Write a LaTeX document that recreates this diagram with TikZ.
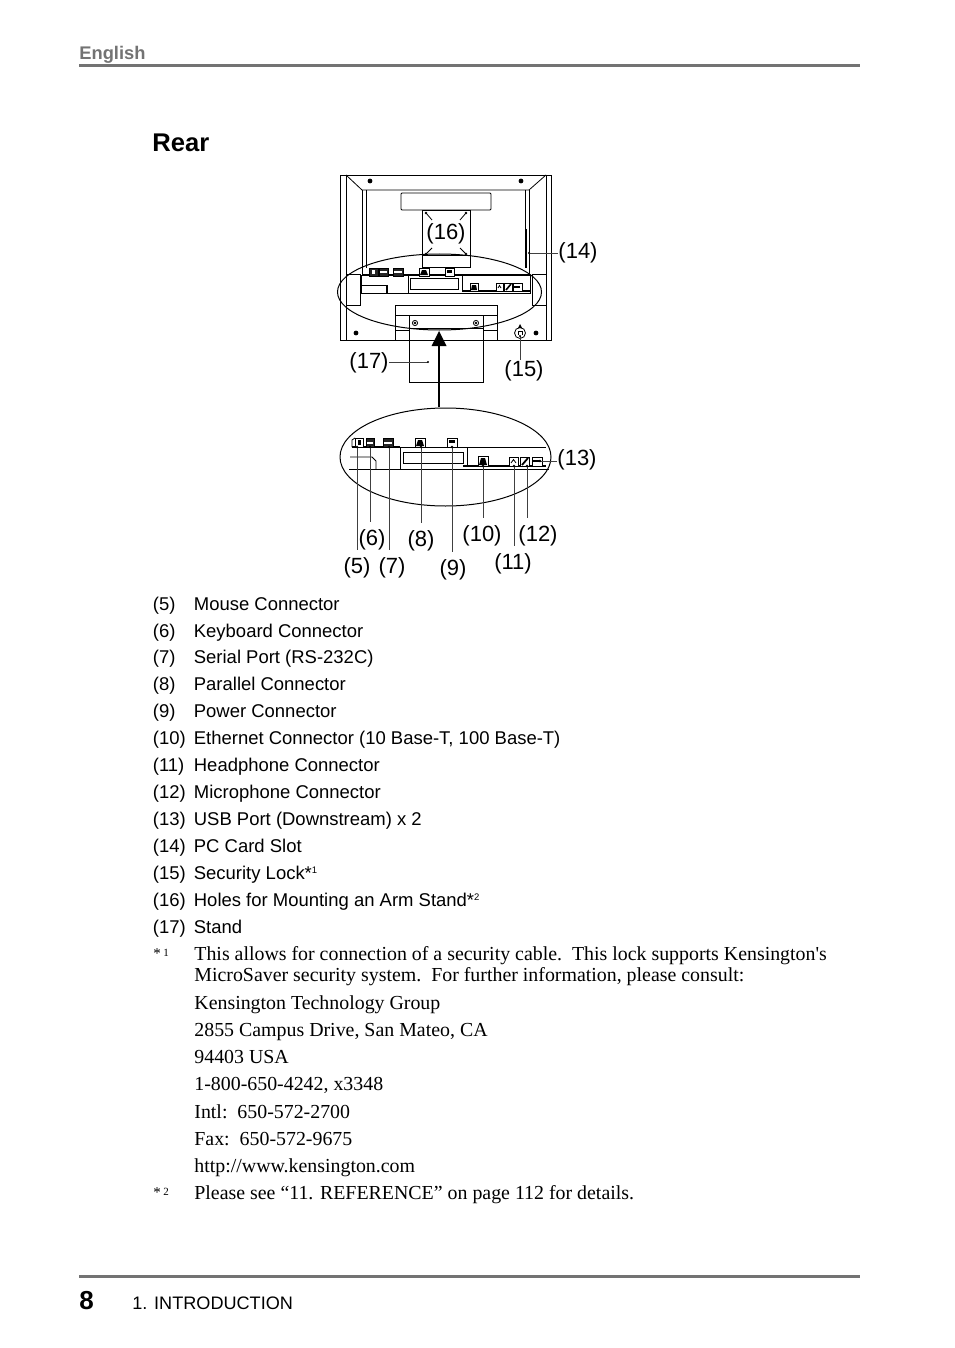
\documentclass[tikz,border=0pt]{standalone}
\usepackage{fontspec}
\setmainfont{Liberation Sans}
\newfontfamily\notefont{Liberation Serif}
\usepackage{tikz}
\definecolor{headgray}{gray}{0.45}
\tikzset{
  itemtext/.style={anchor=base west, inner sep=0pt, font=\fontsize{18.47}{20}\selectfont},
  notetext/.style={anchor=base west, inner sep=0pt, font=\notefont\fontsize{19.88}{22}\selectfont},
  starmark/.style={anchor=base west, inner sep=0pt, font=\notefont\fontsize{15}{16}\selectfont},
  partlabel/.style={inner sep=0pt, font=\fontsize{22}{24}\selectfont},
  leader/.style={black!75, line width=0.9pt},
  longleader/.style={leader, shorten >=7pt},
  portbox/.style={draw, line width=0.8pt, fill=white},
  portdark/.style={draw, line width=0.8pt, fill=black!85}
}
\begin{document}
\begin{tikzpicture}[x=1pt, y=-1pt, >=stealth, line width=0.8pt]
  \useasboundingbox (0,0) rectangle (954,1348);
  % Page head and foot
  \node[anchor=base west, inner sep=0pt, text=headgray, font=\fontsize{18.3}{20}\selectfont\bfseries] (english) at (79,60) {English};
  \draw[headgray, line width=3pt] (79,66) -- (860,66);
  \draw[headgray, line width=3pt] (79,1276) -- (860,1276);
  \node[anchor=base west, inner sep=0pt, font=\fontsize{26}{28}\selectfont\bfseries] (pageno) at (79,1309) {8};
  \node[anchor=base west, inner sep=0pt, font=\fontsize{18.1}{20}\selectfont] (chapter) at (132,1309) {1. INTRODUCTION};
  \node[anchor=base west, inner sep=0pt, font=\fontsize{25.6}{28}\selectfont\bfseries] (title) at (152,152) {Rear};

  % 1. Monitor rear
  \draw (340,175) rectangle (551,340);
  \draw (346,175) -- (346,340);
  \draw (546,175) -- (546,340);
  \draw (346,175) -- (362,190) -- (529,190) -- (546,175);
  \draw (362,190) -- (362,275);
  \draw (366,190) -- (366,268);
  \draw (529,190) -- (529,275);
  \draw (525,190) -- (525,268);
  \draw[line width=1.6pt] (526,229) -- (526,268);
  \draw[rounded corners=1pt] (401,193) rectangle (491,210);
  \fill (370,181) circle (2.4pt);
  \fill (521,181) circle (2.4pt);
  \fill (356,333) circle (2.4pt);
  \fill (536,333) circle (2.4pt);
  % Arm plate with its holes
  \draw (422,210) rectangle (470,267);
  \draw (422,255) -- (470,255);
  \draw (426,213) -- (432,220);
  \draw (466,213) -- (460,220);
  \draw (426,254) -- (432,248);
  \draw (466,254) -- (460,248);
  \fill (426,213) circle (1.3pt);
  \fill (466,213) circle (1.3pt);
  \fill (426,254) circle (1.3pt);
  \fill (466,254) circle (1.3pt);
  % Connector strip
  \draw[line width=1.2pt] (362,275) -- (530,275);
  \draw (346,274) -- (360,274) -- (360,305) -- (346,305);
  \draw (546,274) -- (532,274) -- (532,305) -- (546,305);
  \draw (361,275) -- (361,293) -- (530,293) -- (530,275);
  \draw (361,285) -- (387,285);
  \draw[line width=1.4pt] (387,285) -- (387,293);
  \draw (408,275) -- (408,293);
  \draw (410,278) rectangle (458,289);
  \draw (462,275) -- (462,291);
  \draw[line width=1.4pt] (462,291) -- (530,291);
  \draw[portdark] (369,268) rectangle (378,276);
  \fill[white] (372,270) rectangle (375,274);
  \draw[portdark] (379,268) rectangle (388,276);
  \fill[white] (380,271) rectangle (387,273);
  \draw[portdark] (393,268) rectangle (403,276);
  \fill[white] (394,271) rectangle (402,273);
  \draw[portbox] (419,268) rectangle (429,276);
  \fill (422,270) -- (426,270) -- (428,275) -- (420,275) -- cycle;
  \draw[portbox] (445,268) rectangle (454,276);
  \fill (447,270) rectangle (452,273);
  \draw[portbox] (470,283) rectangle (478,291);
  \fill (472,285) -- (476,285) -- (477,290) -- (471,290) -- cycle;
  \draw[portbox] (496,283) rectangle (503,291);
  \draw (498,288) -- (499.5,285.5) -- (501,288);
  \draw[portbox] (504,283) rectangle (512,291);
  \draw[line width=1.6pt] (506,290) -- (511,284);
  \draw[portbox] (513,283) rectangle (522,291);
  \draw[line width=1.4pt] (514,287) -- (520,287);
  % Stand
  \draw (395,340) -- (395,305) -- (497,305) -- (497,340);
  \draw (395,315) -- (409,315);
  \draw (483,315) -- (497,315);
  \draw (395,330) -- (409,330);
  \draw (483,330) -- (497,330);
  \fill[white] (409.5,340.5) rectangle (482.5,381.5);
  \draw (415,323) circle (2.6pt);
  \draw (476,323) circle (2.6pt);
  \fill (415,323) circle (1.4pt);
  \fill (476,323) circle (1.4pt);
  \draw (409,315) rectangle (483,382);
  \draw (409,328) -- (483,328);
  % Security lock
  \draw (520,333) circle (5.5pt);
  \fill (520,324) -- (518,328) -- (522,328) -- cycle;
  \draw (518,335) -- (518,331) -- (522,331) -- (522,335);
  % Ring and arrow
  \draw[line width=1pt] (439.5,292) ellipse (102 and 38);
  \coordinate (ringtop) at (439,407);
  \coordinate (arrowtip) at (439,331);
  \draw[line width=1.2pt] (ringtop) -- (439,345);
  \fill (arrowtip) -- (446.5,346) -- (431.5,346) -- cycle;

  % 2. Enlarged strip
  \draw[line width=1pt] (445.5,457) ellipse (105.5 and 49);
  \draw[line width=1.6pt] (352,447) -- (400,447);
  \draw (352,447) -- (352,440) -- (355,438);
  \draw (350,457) -- (372,457) -- (376,461) -- (376,469);
  \draw (349,469) -- (549,469);
  \draw (400,447) -- (400,469);
  \draw (403,452) rectangle (463,463);
  \draw (400,447) -- (467,447);
  \draw (467,447) -- (467,466);
  \draw (467,447) -- (546,447);
  \draw[line width=1.6pt] (463,466) -- (546,466);
  \draw[portbox] (355,438) rectangle (363,447);
  \fill (357.5,440) rectangle (360.5,445);
  \draw[portdark] (366,438) rectangle (374,447);
  \fill[white] (367,441.5) rectangle (373,444);
  \draw[portdark] (383,438) rectangle (393,447);
  \fill[white] (384,441.5) rectangle (392,444);
  \draw[portbox] (415,438) rectangle (425,447);
  \fill (418,440) -- (422,440) -- (424,446) -- (416,446) -- cycle;
  \draw[portbox] (447,438) rectangle (457,447);
  \fill (449,440) rectangle (455,443);
  \draw[portbox] (478,456) rectangle (488,466);
  \fill (481,458) -- (485,458) -- (487,465) -- (479,465) -- cycle;
  \draw[portbox] (509,457) rectangle (518,466);
  \draw (511,463) -- (513.5,459.5) -- (516,463);
  \draw[portbox] (520,457) rectangle (529,466);
  \draw[line width=1.8pt] (522,465) -- (528,458);
  \draw[portbox] (532,457) rectangle (542,466);
  \draw[line width=1.4pt] (533,461) -- (540,461);

  % 3. Part labels
  \node[partlabel] (l5) at (357,568) {(5)};
  \node[partlabel] (l6) at (372,540) {(6)};
  \node[partlabel] (l7) at (392,568) {(7)};
  \node[partlabel] (l8) at (421,541) {(8)};
  \node[partlabel] (l9) at (453,570) {(9)};
  \node[partlabel] (l10) at (482,536) {(10)};
  \node[partlabel] (l11) at (513,564) {(11)};
  \node[partlabel] (l12) at (538,536) {(12)};
  \node[partlabel] (l13) at (577,460) {(13)};
  \node[partlabel] (l14) at (578,253) {(14)};
  \node[partlabel] (l15) at (524,371) {(15)};
  \node[partlabel] (l16) at (446,234) {(16)};
  \node[partlabel] (l17) at (369,363) {(17)};
  \coordinate (p5) at (357,447);
  \coordinate (p6) at (370,447);
  \coordinate (p7) at (389,447);
  \coordinate (p8) at (421,447);
  \coordinate (p9) at (452,447);
  \coordinate (p10) at (483,466);
  \coordinate (p11) at (514,466);
  \coordinate (p12) at (527,466);
  \coordinate (p13) at (540,461);
  \coordinate (p14) at (529,253);
  \coordinate (p15) at (520,336);
  \coordinate (p17) at (428,362);
  \draw[longleader] (p5) -- (p5 |- l5.north);
  \draw[longleader] (p6) -- (p6 |- l6.north);
  \draw[longleader] (p7) -- (p7 |- l7.north);
  \draw[longleader] (p8) -- (p8 |- l8.north);
  \draw[longleader] (p9) -- (p9 |- l9.north);
  \draw[longleader] (p10) -- (p10 |- l10.north);
  \draw[longleader] (p11) -- (p11 |- l11.north);
  \draw[longleader] (p12) -- (p12 |- l12.north);
  \draw[leader] (p13) -- (l13.west |- p13);
  \draw[leader] (p14) -- (l14.west |- p14);
  \draw[leader] (p15) -- (p15 |- l15.north);
  \draw[leader] (p17) -- (l17.east |- p17);
  \fill (p5) circle (1.4pt);
  \fill (p6) circle (1.4pt);
  \fill (p7) circle (1.4pt);
  \fill (p8) circle (1.4pt);
  \fill (p9) circle (1.4pt);
  \fill (p10) circle (1.4pt);
  \fill (p11) circle (1.4pt);
  \fill (p12) circle (1.4pt);
  \fill (p13) circle (1.4pt);
  \fill (p14) circle (1.2pt);
  \fill (p15) circle (1.2pt);
  \fill (p17) circle (1.2pt);

  % 4. Parts list
  \node[itemtext] (n5) at (152.5,610) {(5)};
  \node[itemtext] (t5) at (193.5,610) {Mouse Connector};
  \node[itemtext] (n6) at (152.5,637) {(6)};
  \node[itemtext] (t6) at (193.5,637) {Keyboard Connector};
  \node[itemtext] (n7) at (152.5,663) {(7)};
  \node[itemtext] (t7) at (193.5,663) {Serial Port (RS-232C)};
  \node[itemtext] (n8) at (152.5,690) {(8)};
  \node[itemtext] (t8) at (193.5,690) {Parallel Connector};
  \node[itemtext] (n9) at (152.5,717) {(9)};
  \node[itemtext] (t9) at (193.5,717) {Power Connector};
  \node[itemtext] (n10) at (152.5,744) {(10)};
  \node[itemtext] (t10) at (193.5,744) {Ethernet Connector (10 Base-T, 100 Base-T)};
  \node[itemtext] (n11) at (152.5,771) {(11)};
  \node[itemtext] (t11) at (193.5,771) {Headphone Connector};
  \node[itemtext] (n12) at (152.5,798) {(12)};
  \node[itemtext] (t12) at (193.5,798) {Microphone Connector};
  \node[itemtext] (n13) at (152.5,825) {(13)};
  \node[itemtext] (t13) at (193.5,825) {USB Port (Downstream) x 2};
  \node[itemtext] (n14) at (152.5,852) {(14)};
  \node[itemtext] (t14) at (193.5,852) {PC Card Slot};
  \node[itemtext] (n15) at (152.5,879) {(15)};
  \node[itemtext] (t15) at (193.5,879) {Security Lock*\raisebox{6pt}{\fontsize{9.5}{10}\selectfont 1}};
  \node[itemtext] (n16) at (152.5,906) {(16)};
  \node[itemtext] (t16) at (193.5,906) {Holes for Mounting an Arm Stand*\raisebox{6pt}{\fontsize{9.5}{10}\selectfont 2}};
  \node[itemtext] (n17) at (152.5,933) {(17)};
  \node[itemtext] (t17) at (193.5,933) {Stand};

  % 5. Notes
  \node[starmark] (s1) at (153,958) {*\,\raisebox{2pt}{\fontsize{11}{12}\selectfont 1}};
  \node[notetext] (f1) at (194,960) {This allows for connection of a security cable.\ \ This lock supports Kensington's};
  \node[notetext] (f2) at (194,981) {MicroSaver security system.\ \ For further information, please consult:};
  \node[notetext] (f3) at (194,1009) {Kensington Technology Group};
  \node[notetext] (f4) at (194,1036) {2855 Campus Drive, San Mateo, CA};
  \node[notetext] (f5) at (194,1063) {94403 USA};
  \node[notetext] (f6) at (194,1090) {1-800-650-4242, x3348};
  \node[notetext] (f7) at (194,1118) {Intl:\ \ 650-572-2700};
  \node[notetext] (f8) at (194,1145) {Fax:\ \ 650-572-9675};
  \node[notetext] (f9) at (194,1172) {http://www.kensington.com};
  \node[starmark] (s2) at (153,1197) {*\,\raisebox{2pt}{\fontsize{11}{12}\selectfont 2}};
  \node[notetext] (f10) at (194,1199) {Please see “11. REFERENCE” on page 112 for details.};
\end{tikzpicture}
\end{document}
